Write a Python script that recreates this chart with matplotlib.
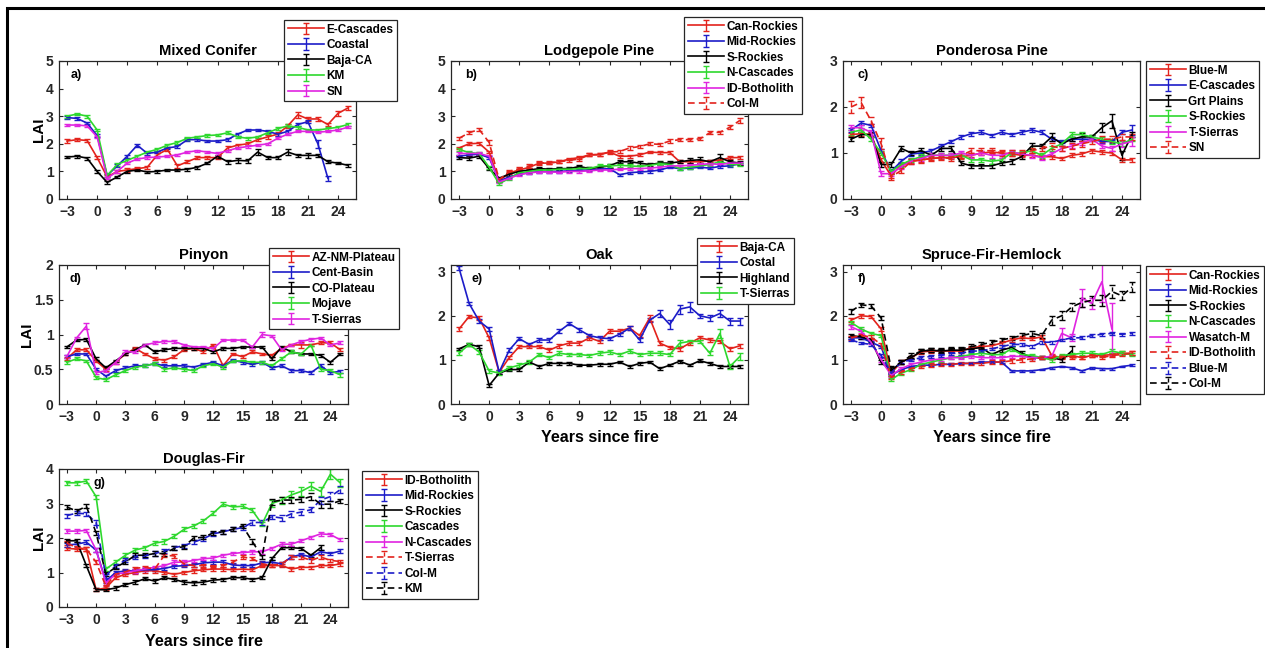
import numpy as np
import matplotlib.pyplot as plt
from matplotlib.patches import Rectangle

plt.rcParams['font.family'] = ['Liberation Sans', 'DejaVu Sans']
plt.rcParams['font.weight'] = 'bold'

nan = np.nan
years = list(range(-3, 26))

# a) Mixed Conifer
mixed_labels = ['E-Cascades', 'Coastal', 'Baja-CA', 'KM', 'SN']
mixed_values = [
    [2.1, 2.15, 2.12, 1.5, 0.8, 1.0, 1.05, 1.1, 1.15, 1.6, 1.8, 1.2, 1.35, 1.5, 1.5, 1.5, 1.85, 1.95, 2.0, 2.15, 2.25, 2.35, 2.65, 3.05, 2.9, 2.9, 2.7, 3.1, 3.3],
    [2.95, 2.92, 2.75, 2.3, 0.85, 1.2, 1.55, 1.95, 1.65, 1.7, 1.85, 1.9, 2.15, 2.15, 2.1, 2.1, 2.15, 2.35, 2.5, 2.5, 2.45, 2.35, 2.45, 2.7, 2.8, 2.0, 0.75, nan, nan],
    [1.52, 1.55, 1.48, 1.0, 0.6, 0.8, 1.0, 1.05, 0.98, 1.0, 1.05, 1.05, 1.08, 1.15, 1.3, 1.55, 1.35, 1.4, 1.38, 1.7, 1.5, 1.5, 1.7, 1.58, 1.58, 1.58, 1.35, 1.3, 1.22],
    [3.0, 3.08, 3.0, 2.5, 0.85, 1.25, 1.4, 1.55, 1.7, 1.8, 1.95, 2.05, 2.2, 2.25, 2.3, 2.32, 2.4, 2.25, 2.2, 2.25, 2.4, 2.55, 2.65, 2.6, 2.5, 2.5, 2.55, 2.6, 2.7],
    [2.68, 2.68, 2.65, 2.25, 0.75, 1.0, 1.3, 1.45, 1.5, 1.52, 1.55, 1.6, 1.7, 1.75, 1.7, 1.65, 1.75, 1.85, 1.9, 1.95, 2.0, 2.2, 2.35, 2.45, 2.45, 2.42, 2.45, 2.5, 2.6],
]
mixed_err = [0.06, 0.05, 0.05, 0.05, 0.04]
mixed_err_big = {(1, 22): 0.15, (1, 23): 0.08, (2, 16): 0.1, (2, 19): 0.1, (2, 21): 0.1,
                 (2, 13): 0.08, (2, 14): 0.08, (2, 15): 0.08, (0, 20): 0.1, (0, 24): 0.08}

# b) Lodgepole Pine
lodge_labels = ['Can-Rockies', 'Mid-Rockies', 'S-Rockies', 'N-Cascades', 'ID-Botholith', 'Col-M']
lodge_values = [
    [1.85, 2.0, 2.02, 1.7, 0.65, 0.95, 1.05, 1.15, 1.3, 1.3, 1.35, 1.45, 1.5, 1.6, 1.6, 1.7, 1.55, 1.55, 1.6, 1.7, 1.68, 1.68, 1.35, 1.35, 1.35, 1.38, 1.4, 1.5, 1.5],
    [1.55, 1.6, 1.62, 1.5, 0.65, 0.8, 0.9, 0.95, 1.0, 1.0, 1.0, 1.02, 1.05, 1.05, 1.08, 1.1, 0.88, 0.95, 0.98, 1.0, 1.05, 1.15, 1.1, 1.12, 1.15, 1.12, 1.18, 1.2, 1.28],
    [1.5, 1.48, 1.55, 1.1, 0.75, 0.9, 1.0, 1.05, 1.1, 1.08, 1.1, 1.1, 1.18, 1.1, 1.15, 1.2, 1.35, 1.35, 1.3, 1.25, 1.3, 1.3, 1.35, 1.4, 1.42, 1.35, 1.5, 1.35, 1.3],
    [1.8, 1.68, 1.65, 1.15, 0.55, 0.75, 0.95, 1.0, 1.05, 1.05, 1.08, 1.08, 1.1, 1.1, 1.2, 1.2, 1.22, 1.2, 1.18, 1.22, 1.28, 1.25, 1.1, 1.15, 1.2, 1.25, 1.35, 1.25, 1.25],
    [1.65, 1.65, 1.65, 1.55, 0.62, 0.75, 0.88, 0.95, 0.98, 0.98, 0.97, 1.0, 1.0, 1.02, 1.05, 1.05, 1.08, 1.1, 1.1, 1.12, 1.15, 1.2, 1.2, 1.22, 1.25, 1.28, 1.25, 1.3, 1.3],
    [2.2, 2.4, 2.52, 2.05, 0.7, 1.0, 1.1, 1.2, 1.3, 1.32, 1.35, 1.4, 1.45, 1.6, 1.62, 1.7, 1.72, 1.85, 1.9, 2.0, 1.98, 2.1, 2.15, 2.15, 2.18, 2.4, 2.42, 2.6, 2.85],
]
lodge_err = [0.05, 0.04, 0.06, 0.05, 0.04, 0.06]
lodge_err_big = {(2, 20): 0.1, (2, 21): 0.1, (2, 23): 0.12, (5, 0): 0.1, (5, 24): 0.08, (5, 25): 0.1}

# c) Ponderosa Pine
ponde_labels = ['Blue-M', 'E-Cascades', 'Grt Plains', 'S-Rockies', 'T-Sierras', 'SN']
ponde_values = [
    [1.4, 1.42, 1.4, 0.85, 0.5, 0.75, 0.82, 0.85, 0.88, 0.9, 0.9, 0.92, 0.95, 1.0, 1.02, 1.0, 0.98, 0.95, 0.95, 0.92, 0.92, 0.88, 0.95, 0.98, 1.05, 1.02, 1.0, 0.85, 0.85],
    [1.5, 1.65, 1.6, 1.05, 0.6, 0.82, 0.98, 1.0, 1.05, 1.15, 1.25, 1.35, 1.42, 1.45, 1.38, 1.45, 1.4, 1.45, 1.5, 1.45, 1.3, 1.25, 1.3, 1.3, 1.3, 1.25, 1.25, 1.45, 1.5],
    [1.3, 1.4, 1.4, 0.75, 0.75, 1.1, 1.0, 1.05, 0.95, 1.1, 1.1, 0.78, 0.72, 0.72, 0.72, 0.78, 0.82, 0.92, 1.15, 1.15, 1.35, 1.2, 1.3, 1.35, 1.35, 1.55, 1.7, 0.95, 1.4],
    [1.45, 1.5, 1.3, 1.0, 0.6, 0.75, 0.85, 0.92, 0.95, 0.95, 0.95, 0.95, 0.85, 0.85, 0.82, 0.85, 1.0, 1.0, 1.05, 0.95, 1.1, 1.2, 1.4, 1.4, 1.35, 1.3, 1.25, 1.2, 1.3],
    [1.55, 1.55, 1.45, 0.55, 0.55, 0.7, 0.82, 0.88, 0.95, 0.95, 0.95, 1.0, 0.95, 1.0, 0.95, 0.95, 1.02, 0.98, 0.95, 0.9, 0.98, 1.1, 1.15, 1.22, 1.3, 1.15, 1.1, 1.2, 1.25],
    [2.0, 2.1, 1.7, 1.2, 0.48, 0.62, 0.82, 0.85, 0.88, 0.9, 0.88, 0.95, 1.05, 1.05, 1.05, 1.0, 1.0, 1.0, 1.05, 1.1, 1.15, 1.1, 1.15, 1.2, 1.25, 1.3, 1.3, 1.35, 1.35],
]
ponde_err = [0.04, 0.04, 0.05, 0.05, 0.05, 0.06]
ponde_err_big = {(5, -3): 0.12, (5, -2): 0.12, (5, -1): 0.08, (5, 0): 0.12, (2, 15): 0.06, (2, 17): 0.08,
                 (2, 20): 0.08, (2, 22): 0.1, (2, 23): 0.15, (2, 24): 0.1, (1, 25): 0.1, (4, 24): 0.08, (4, 25): 0.1}

# d) Pinyon
pinyon_labels = ['AZ-NM-Plateau', 'Cent-Basin', 'CO-Plateau', 'Mojave', 'T-Sierras']
pinyon_values = [
    [0.65, 0.78, 0.78, 0.62, 0.5, 0.6, 0.72, 0.8, 0.72, 0.65, 0.63, 0.68, 0.78, 0.8, 0.75, 0.85, 0.55, 0.72, 0.68, 0.75, 0.72, 0.7, 0.8, 0.85, 0.85, 0.85, 0.88, 0.88, 0.78],
    [0.68, 0.72, 0.72, 0.5, 0.4, 0.48, 0.52, 0.55, 0.55, 0.58, 0.55, 0.55, 0.55, 0.53, 0.57, 0.6, 0.55, 0.63, 0.6, 0.57, 0.6, 0.52, 0.55, 0.48, 0.48, 0.45, 0.55, 0.45, 0.47],
    [0.82, 0.92, 0.93, 0.65, 0.52, 0.62, 0.72, 0.78, 0.85, 0.75, 0.78, 0.8, 0.8, 0.8, 0.8, 0.75, 0.8, 0.8, 0.82, 0.82, 0.82, 0.65, 0.82, 0.75, 0.72, 0.72, 0.7, 0.6, 0.72],
    [0.6, 0.65, 0.62, 0.38, 0.35, 0.42, 0.48, 0.53, 0.55, 0.58, 0.5, 0.52, 0.5, 0.48, 0.55, 0.58, 0.53, 0.62, 0.62, 0.6, 0.6, 0.55, 0.65, 0.75, 0.72, 0.85, 0.5, 0.48, 0.42],
    [0.68, 0.95, 1.12, 0.45, 0.48, 0.6, 0.75, 0.75, 0.85, 0.88, 0.9, 0.9, 0.85, 0.82, 0.82, 0.8, 0.92, 0.92, 0.92, 0.82, 1.0, 0.98, 0.78, 0.85, 0.9, 0.93, 0.95, 0.85, 0.88],
]
pinyon_err = [0.02, 0.02, 0.02, 0.02, 0.02]
pinyon_err_big = {(4, -1): 0.04, (4, 17): 0.03, (0, 21): 0.04, (3, 25): 0.03}

# e) Oak
oak_labels = ['Baja-CA', 'Costal', 'Highland', 'T-Sierras']
oak_values = [
    [1.7, 1.98, 1.95, 1.5, 0.72, 1.05, 1.3, 1.3, 1.3, 1.22, 1.32, 1.38, 1.38, 1.5, 1.42, 1.65, 1.65, 1.72, 1.55, 1.95, 1.38, 1.28, 1.25, 1.38, 1.5, 1.45, 1.42, 1.25, 1.32],
    [3.08, 2.28, 1.88, 1.7, 0.72, 1.22, 1.48, 1.35, 1.45, 1.45, 1.65, 1.82, 1.68, 1.55, 1.5, 1.48, 1.58, 1.72, 1.45, 1.9, 2.05, 1.8, 2.15, 2.2, 2.0, 1.95, 2.05, 1.88, 1.88],
    [1.25, 1.35, 1.3, 0.42, 0.7, 0.78, 0.78, 0.95, 0.85, 0.92, 0.92, 0.92, 0.88, 0.88, 0.9, 0.9, 0.95, 0.85, 0.92, 0.95, 0.8, 0.88, 0.97, 0.88, 0.98, 0.92, 0.85, 0.85, 0.85],
    [1.15, 1.35, 1.18, 0.75, 0.7, 0.82, 0.88, 0.95, 1.12, 1.05, 1.15, 1.12, 1.12, 1.1, 1.15, 1.18, 1.12, 1.2, 1.12, 1.15, 1.15, 1.12, 1.38, 1.42, 1.42, 1.15, 1.6, 0.85, 1.08],
]
oak_err = [0.04, 0.04, 0.03, 0.04]
oak_err_big = {(1, 17): 0.07, (1, 18): 0.1, (1, 19): 0.1, (1, 20): 0.12, (1, 22): 0.07, (1, 23): 0.08,
               (1, 24): 0.08, (1, 25): 0.08, (3, 19): 0.07, (3, 23): 0.1, (3, 24): 0.05, (3, 25): 0.08, (0, 16): 0.06}

# f) Spruce-Fir-Hemlock
spruce_labels = ['Can-Rockies', 'Mid-Rockies', 'S-Rockies', 'N-Cascades', 'Wasatch-M', 'ID-Botholith', 'Blue-M', 'Col-M']
spruce_values = [
    [1.9, 2.0, 1.98, 1.7, 0.7, 0.95, 1.05, 1.18, 1.2, 1.2, 1.2, 1.2, 1.28, 1.3, 1.32, 1.38, 1.45, 1.5, 1.48, 1.52, 1.1, 1.05, 1.1, 1.05, 1.1, 1.1, 1.12, 1.15, 1.15],
    [1.5, 1.5, 1.4, 1.3, 0.65, 0.78, 0.85, 0.88, 0.88, 0.9, 0.9, 0.92, 0.92, 0.95, 0.95, 0.95, 0.75, 0.75, 0.75, 0.78, 0.82, 0.85, 0.82, 0.75, 0.82, 0.8, 0.8, 0.85, 0.88],
    [1.55, 1.52, 1.45, 0.95, 0.75, 0.95, 1.05, 1.2, 1.22, 1.2, 1.22, 1.22, 1.25, 1.28, 1.12, 1.22, 1.28, 1.15, 1.05, 1.05, 1.05, 1.0, 1.2, nan, nan, nan, nan, nan, nan],
    [1.85, 1.7, 1.6, 1.55, 0.55, 0.7, 0.78, 0.9, 0.95, 1.0, 1.05, 1.08, 1.12, 1.15, 1.12, 1.12, 1.25, 1.12, 1.1, 1.05, 1.0, 1.1, 1.12, 1.15, 1.15, 1.12, 1.2, 1.15, 1.12],
    [1.75, 1.65, 1.4, 1.0, 0.65, 0.8, 0.9, 0.95, 1.0, 1.02, 1.05, 1.05, 1.08, 1.05, 1.05, 1.05, 1.08, 1.08, 1.05, 1.05, 1.08, 1.6, 1.5, 2.4, 2.28, 2.77, 1.7, nan, nan],
    [1.5, 1.55, 1.52, 1.35, 0.6, 0.72, 0.8, 0.85, 0.88, 0.9, 0.9, 0.92, 0.92, 0.92, 0.95, 0.95, 0.98, 1.0, 1.02, 1.05, 1.05, 1.08, 1.05, 1.05, 1.1, 1.05, 1.1, 1.12, 1.15],
    [1.45, 1.38, 1.35, 1.1, 0.7, 0.95, 1.0, 1.05, 1.08, 1.1, 1.15, 1.15, 1.2, 1.2, 1.25, 1.3, 1.35, 1.35, 1.3, 1.4, 1.4, 1.45, 1.5, 1.5, 1.55, 1.58, 1.6, 1.58, 1.6],
    [2.1, 2.25, 2.22, 1.95, 0.8, 0.95, 1.1, 1.2, 1.22, 1.22, 1.25, 1.25, 1.3, 1.35, 1.4, 1.45, 1.5, 1.55, 1.6, 1.55, 1.9, 2.0, 2.2, 2.3, 2.35, 2.35, 2.55, 2.45, 2.65],
]
spruce_err = [0.04, 0.02, 0.04, 0.04, 0.04, 0.04, 0.03, 0.05]
spruce_err_big = {(7, 17): 0.1, (7, 18): 0.1, (7, 19): 0.1, (7, 20): 0.1, (7, 21): 0.1, (7, 22): 0.12,
                  (7, 23): 0.15, (7, 24): 0.1, (7, 25): 0.12, (4, 18): 0.12, (4, 19): 0.08, (4, 20): 0.2,
                  (4, 21): 0.12, (4, 22): 0.45, (4, 23): 0.6, (2, 19): 0.12}

# g) Douglas-Fir
dfir_labels = ['ID-Botholith', 'Mid-Rockies', 'S-Rockies', 'Cascades', 'N-Cascades', 'T-Sierras', 'Col-M', 'KM']
dfir_values = [
    [1.7, 1.68, 1.68, 0.5, 0.55, 0.85, 0.95, 1.0, 1.05, 1.05, 1.0, 0.95, 1.0, 1.05, 1.08, 1.1, 1.1, 1.08, 1.1, 1.08, 1.2, 1.2, 1.2, 1.1, 1.15, 1.15, 1.2, 1.2, 1.25],
    [1.8, 1.82, 1.88, 1.65, 0.75, 1.0, 1.05, 1.05, 1.08, 1.08, 1.12, 1.18, 1.2, 1.22, 1.28, 1.3, 1.3, 1.22, 1.2, 1.2, 1.28, 1.3, 1.25, 1.45, 1.52, 1.45, 1.6, 1.55, 1.62],
    [1.92, 1.92, 1.2, 0.5, 0.5, 0.55, 0.65, 0.72, 0.82, 0.75, 0.85, 0.8, 0.72, 0.7, 0.72, 0.78, 0.8, 0.85, 0.85, 0.8, 0.85, 1.4, 1.72, 1.72, 1.7, 1.5, 1.72, nan, nan],
    [3.6, 3.6, 3.65, 3.2, 1.1, 1.3, 1.5, 1.65, 1.72, 1.85, 1.9, 2.05, 2.25, 2.35, 2.5, 2.72, 2.98, 2.9, 2.92, 2.8, 2.4, 3.0, 3.1, 3.25, 3.35, 3.5, 3.35, 3.85, 3.6],
    [2.2, 2.2, 2.22, 1.65, 0.7, 0.95, 1.0, 1.05, 1.1, 1.15, 1.2, 1.3, 1.3, 1.35, 1.4, 1.42, 1.5, 1.55, 1.58, 1.6, 1.6, 1.7, 1.82, 1.82, 1.92, 2.02, 2.12, 2.1, 1.95],
    [1.85, 1.72, 1.68, 1.3, 0.6, 0.95, 1.02, 1.12, 1.15, 1.1, 1.5, 1.48, 1.25, 1.2, 1.2, 1.18, 1.2, 1.3, 1.45, 1.4, 1.25, 1.2, 1.25, 1.45, 1.45, 1.35, 1.45, 1.35, 1.32],
    [2.65, 2.72, 2.7, 2.45, 0.9, 1.2, 1.35, 1.45, 1.48, 1.55, 1.62, 1.72, 1.78, 1.88, 1.98, 2.12, 2.18, 2.25, 2.3, 2.45, 2.45, 2.62, 2.58, 2.7, 2.75, 2.82, 3.1, 3.2, 3.4],
    [2.9, 2.78, 2.92, 2.15, 0.95, 1.15, 1.3, 1.5, 1.5, 1.55, 1.55, 1.7, 1.75, 2.0, 2.02, 2.15, 2.18, 2.25, 2.35, 1.9, 1.45, 3.05, 3.1, 3.1, 3.12, 3.2, 2.98, 2.98, 3.08],
]
dfir_err = [0.05, 0.05, 0.05, 0.06, 0.05, 0.05, 0.06, 0.06]
dfir_err_big = {(3, 18): 0.1, (3, 19): 0.1, (3, 20): 0.1, (3, 21): 0.12, (3, 22): 0.12, (3, 23): 0.12,
                (3, 24): 0.15, (3, 25): 0.12, (7, 18): 0.08, (7, 19): 0.08, (7, 20): 0.08, (7, 21): 0.08,
                (7, 22): 0.1, (7, 23): 0.1, (7, 24): 0.1, (6, 19): 0.08, (6, 20): 0.08, (6, 21): 0.08,
                (6, 22): 0.08, (6, 23): 0.1, (6, 24): 0.12, (6, 25): 0.1, (2, 23): 0.08, (5, 22): 0.08}

W, H = 1265, 648
fig = plt.figure(figsize=(W / 100, H / 100), dpi=100)
colors = ['#e3231c', '#1c1cc8', '#000000', '#2ed82e', '#e024e0']
ink = '#262626'


def draw_panel(box, title, letter, letter_dx, labels, values, err, err_big,
               ylim, yticks, leg_xy, xlabel=False, ylabel=False):
    left, top, w, h = box
    ax = fig.add_axes([left / W, 1 - (top + h) / H, w / W, h / H])
    x = np.array(years)
    for i, (lab, vals) in enumerate(zip(labels, values)):
        e = np.full(len(x), err[i])
        for (k, yr), v in err_big.items():
            if k == i:
                e[yr + 3] = v
        dashed = i >= 5
        ls = (0, (4, 2.5)) if dashed else '-'
        cont = ax.errorbar(x, vals, yerr=e, color=colors[i % 5], ls=ls, lw=1.2,
                           elinewidth=1.0, capsize=2.2, capthick=1.0, label=lab)
        if dashed:
            # MATLAB draws the bars of dashed series dashed as well
            cont[2][0].set_linestyle((0, (3, 2)))
    ax.set_xlim(-3.8, 25.8)
    ax.set_ylim(*ylim)
    ax.set_xticks(range(-3, 25, 3))
    ax.set_yticks(yticks)
    ax.set_yticklabels([f'{t:g}' for t in yticks])
    ax.tick_params(direction='in', top=True, right=True, length=3, width=0.8,
                   labelsize=10, colors=ink, pad=4)
    for t in ax.get_xticklabels() + ax.get_yticklabels():
        t.set_fontweight('bold')
    for s in ax.spines.values():
        s.set_color(ink)
        s.set_linewidth(0.9)
    ax.set_title(title, fontsize=10.6, fontweight='bold', pad=4, color='black')
    ax.text(letter_dx / w, 1 - 14 / h, letter, transform=ax.transAxes,
            fontsize=9, fontweight='bold', va='center', ha='left')
    if ylabel:
        ax.set_ylabel('LAI', fontsize=11, fontweight='bold', labelpad=0)
    if xlabel:
        ax.set_xlabel('Years since fire', fontsize=11.5, fontweight='bold', labelpad=5)
    leg = ax.legend(loc='upper left', bbox_to_anchor=(leg_xy[0] / W, 1 - leg_xy[1] / H),
                    bbox_transform=fig.transFigure, borderaxespad=0, fontsize=8.5,
                    frameon=True, fancybox=False, framealpha=1, edgecolor=ink,
                    borderpad=0.3, labelspacing=0.3, handlelength=3.1,
                    handletextpad=0.2)
    leg.get_frame().set_linewidth(0.9)
    for t in leg.get_texts():
        t.set_fontweight('bold')
    return ax


draw_panel((59, 61, 297, 138), 'Mixed Conifer', 'a)', 12, mixed_labels, mixed_values,
           mixed_err, mixed_err_big, (0, 5), [0, 1, 2, 3, 4, 5], (284, 20), ylabel=True)
draw_panel((451, 61, 297, 138), 'Lodgepole Pine', 'b)', 14, lodge_labels, lodge_values,
           lodge_err, lodge_err_big, (0, 5), [0, 1, 2, 3, 4, 5], (684, 17))
draw_panel((843, 61, 297, 138), 'Ponderosa Pine', 'c)', 14, ponde_labels, ponde_values,
           ponde_err, ponde_err_big, (0, 3), [0, 1, 2, 3], (1146, 61))
draw_panel((59, 265, 289, 139), 'Pinyon', 'd)', 11, pinyon_labels, pinyon_values,
           pinyon_err, pinyon_err_big, (0, 2), [0, 0.5, 1, 1.5, 2], (269, 248), ylabel=True)
draw_panel((451, 265, 297, 139), 'Oak', 'e)', 20, oak_labels, oak_values,
           oak_err, oak_err_big, (0, 3.15), [0, 1, 2, 3], (697, 238), xlabel=True)
draw_panel((843, 265, 297, 139), 'Spruce-Fir-Hemlock', 'f)', 15, spruce_labels, spruce_values,
           spruce_err, spruce_err_big, (0, 3.15), [0, 1, 2, 3], (1146, 266), xlabel=True)
draw_panel((59, 469, 289, 138), 'Douglas-Fir', 'g)', 35, dfir_labels, dfir_values,
           dfir_err, dfir_err_big, (0, 4), [0, 1, 2, 3, 4], (362, 471), xlabel=True, ylabel=True)

# outer frame of the figure
fig.patches.append(Rectangle((7 / W, -0.02), 1.05, 1 - 8 / H + 0.02, transform=fig.transFigure,
                             fill=False, lw=2.2, ec='black'))

fig.savefig('out.png', dpi=100)
